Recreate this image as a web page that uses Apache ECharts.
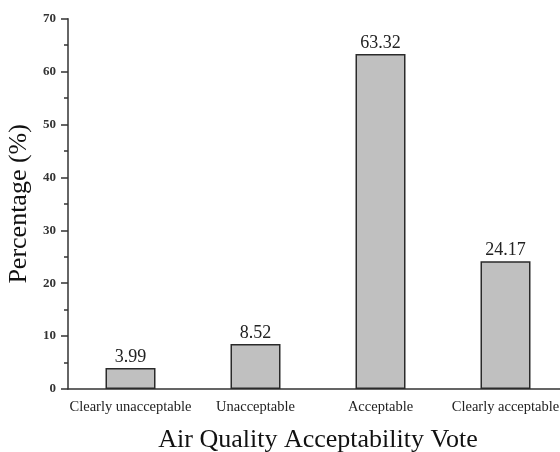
<!DOCTYPE html>
<html><head><meta charset="utf-8">
<script src="https://cdn.jsdelivr.net/npm/echarts@6/dist/echarts.min.js"></script>
<style>html,body{margin:0;padding:0;background:#fff}#c{width:560px;height:452px}</style>
</head><body><div id="c"></div>
<script>
const categories = ['Clearly unacceptable', 'Unacceptable', 'Acceptable', 'Clearly acceptable'];
const percentages = [3.99, 8.52, 63.32, 24.17];
const yTicks = [0, 10, 20, 30, 40, 50, 60, 70];

const serif = '"Liberation Serif", "DejaVu Serif", serif';
const chart = echarts.init(document.getElementById('c'), null, {renderer: 'canvas'});
chart.setOption({
  animation: false,
  grid: {left: 68, right: -8, top: 18.7, bottom: 63, containLabel: false, outerBoundsMode: 'none'},
  xAxis: {
    type: 'category',
    data: categories,
    boundaryGap: true,
    name: 'Air Quality Acceptability Vote',
    nameLocation: 'middle',
    nameGap: 38,
    nameTextStyle: {fontFamily: serif, fontSize: 26, color: '#111'},
    axisLine: {lineStyle: {color: '#333', width: 1.5}},
    axisTick: {alignWithLabel: true, inside: false, length: 7, lineStyle: {color: '#333', width: 1.5}},
    axisLabel: {fontFamily: serif, fontSize: 14.5, color: '#222', margin: 11, interval: 0}
  },
  yAxis: {
    type: 'value',
    min: yTicks[0],
    max: yTicks[yTicks.length - 1],
    interval: 10,
    name: 'Percentage (%)',
    nameLocation: 'middle',
    nameGap: 35,
    nameTextStyle: {fontFamily: serif, fontSize: 26, color: '#111'},
    axisLine: {show: true, lineStyle: {color: '#333', width: 1.5}},
    axisTick: {show: true, inside: false, length: 7, lineStyle: {color: '#333', width: 1.5}},
    minorTick: {show: true, splitNumber: 2, length: 4, lineStyle: {color: '#333', width: 1.5}},
    splitLine: {show: false},
    axisLabel: {fontFamily: serif, fontSize: 13, fontWeight: 'bold', color: '#333', margin: 12}
  },
  series: [{
    type: 'bar',
    data: percentages,
    barWidth: '40%',
    itemStyle: {color: '#c0c0c0', borderColor: '#2a2a2a', borderWidth: 1.5},
    label: {
      show: true, position: 'top', distance: 2,
      fontFamily: serif, fontSize: 18, color: '#222',
      formatter: p => p.value.toFixed(2)
    }
  }]
});
</script></body></html>
